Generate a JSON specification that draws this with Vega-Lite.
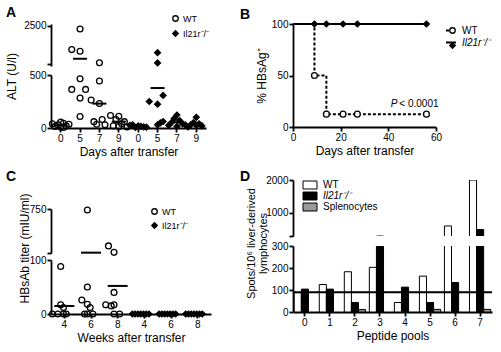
{
  "$schema": "https://vega.github.io/schema/vega-lite/v6.json",
  "padding": {"left": 5, "top": 6, "right": 5, "bottom": 5},
  "spacing": 29,
  "config": {
    "font": "Liberation Sans",
    "view": {"stroke": null},
    "axis": {"domainColor": "black", "domainWidth": 1.8, "tickColor": "black", "tickWidth": 1.8, "tickSize": 4, "labelFontSize": 10, "labelColor": "black", "labelPadding": 1, "titleFontSize": 12, "titleFontWeight": "normal", "titleColor": "black", "titlePadding": 3, "grid": false, "labelFlush": false, "labelOverlap": false},
    "legend": {"labelColor": "black", "labelFont": "Liberation Sans", "padding": 0, "symbolStrokeColor": "black", "symbolStrokeWidth": 1.3},
    "title": {"fontSize": 14, "fontWeight": "bold", "anchor": "start", "frame": "group", "offset": 0, "color": "black"}
  },
  "resolve": {"scale": {"x": "independent", "y": "independent", "shape": "independent", "fill": "independent", "stroke": "independent", "strokeDash": "independent"}, "legend": {"shape": "independent", "fill": "independent", "stroke": "independent", "strokeDash": "independent"}},
  "hconcat": [
    {
      "vconcat": [
        {
          "vconcat": [
            {
              "width": 155, "height": 42,
              "title": {"text": "A", "dx": -45, "dy": 10},
              "layer": [
                {
                  "data": {"name": "A"},
                  "transform": [{"filter": "datum.v >= 500"}],
                  "mark": {"type": "point", "filled": true, "stroke": "black", "strokeWidth": 1.3, "opacity": 1, "size": 34},
                  "encoding": {
                    "x": {"field": "g", "type": "nominal", "scale": {"type": "band", "domain": ["WT|0","WT|5","WT|7","WT|9","KO|0","KO|5","KO|7","KO|9"], "paddingInner": 0, "paddingOuter": 0}, "axis": null},
                    "xOffset": {"field": "k", "type": "nominal", "scale": {"domain": [-3,-2,-1,0,1,2,3]}},
                    "y": {"field": "v", "type": "quantitative", "scale": {"domain": [500, 2500]}, "axis": {"values": [500, 1500, 2500], "format": "d", "labelExpr": "datum.value == 500 ? '' : datum.label", "title": null}},
                    "shape": {"field": "geno", "type": "nominal", "scale": {"domain": ["WT", "Il21r⁻/⁻"], "range": ["circle", "diamond"]}, "legend": {"orient": "none", "legendX": 120, "legendY": -10, "title": null, "labelFontSize": 9, "rowPadding": 4, "labelOffset": 3, "symbolSize": 30, "encode": {"labels": {"update": {"fontStyle": {"signal": "datum.value === 'WT' ? 'normal' : 'italic'"}}}}}},
                    "fill": {"field": "geno", "type": "nominal", "scale": {"domain": ["WT", "Il21r⁻/⁻"], "range": ["transparent", "black"]}},
                    "stroke": {"field": "geno", "type": "nominal", "scale": {"domain": ["WT", "Il21r⁻/⁻"], "range": ["black", "black"]}}
                  }
                },
                {
                  "data": {"name": "Amean"},
                  "transform": [{"filter": "datum.v >= 500"}],
                  "mark": {"type": "tick", "color": "black", "size": 14, "thickness": 2, "opacity": 1},
                  "encoding": {
                    "x": {"field": "g", "type": "nominal"},
                    "y": {"field": "v", "type": "quantitative"}
                  }
                }
              ]
            },
            {
              "width": 155, "height": 53,
              "layer": [
                {
                  "data": {"name": "A"},
                  "transform": [{"filter": "datum.v <= 500"}],
                  "mark": {"type": "point", "filled": true, "stroke": "black", "strokeWidth": 1.3, "opacity": 1, "size": 34},
                  "encoding": {
                    "x": {"field": "g", "type": "nominal", "scale": {"type": "band", "domain": ["WT|0","WT|5","WT|7","WT|9","KO|0","KO|5","KO|7","KO|9"], "paddingInner": 0, "paddingOuter": 0}, "axis": {"labelExpr": "split(datum.value, '|')[1]", "labelAngle": 0, "title": "Days after transfer"}},
                    "xOffset": {"field": "k", "type": "nominal", "scale": {"domain": [-3,-2,-1,0,1,2,3]}},
                    "y": {"field": "v", "type": "quantitative", "scale": {"domain": [0, 500]}, "axis": {"values": [0, 250, 500], "format": "d", "title": "ALT (U/l)", "titleY": 1, "titleX": -33}},
                    "shape": {"field": "geno", "type": "nominal", "scale": {"domain": ["WT", "Il21r⁻/⁻"], "range": ["circle", "diamond"]}, "legend": null},
                    "fill": {"field": "geno", "type": "nominal", "scale": {"domain": ["WT", "Il21r⁻/⁻"], "range": ["transparent", "black"]}, "legend": null}
                  }
                },
                {
                  "data": {"name": "Amean"},
                  "transform": [{"filter": "datum.v <= 500"}],
                  "mark": {"type": "tick", "color": "black", "size": 14, "thickness": 2, "opacity": 1},
                  "encoding": {
                    "x": {"field": "g", "type": "nominal"},
                    "y": {"field": "v", "type": "quantitative"}
                  }
                }
              ]
            }
          ],
          "spacing": 9,
          "bounds": "flush",
          "resolve": {"scale": {"x": "independent", "y": "independent", "shape": "independent", "fill": "independent", "stroke": "independent"}, "legend": {"shape": "independent", "fill": "independent", "stroke": "independent"}}
        },
        {
          "vconcat": [
            {
              "width": 160, "height": 44,
              "title": {"text": "C", "dx": -45, "dy": -16},
              "layer": [
                {
                  "data": {"name": "C"},
                  "transform": [{"filter": "datum.v >= 100"}],
                  "mark": {"type": "point", "filled": true, "stroke": "black", "strokeWidth": 1.3, "opacity": 1, "size": 34},
                  "encoding": {
                    "x": {"field": "g", "type": "nominal", "scale": {"type": "band", "domain": ["WT|4","WT|6","WT|8","KO|4","KO|6","KO|8"], "paddingInner": 0, "paddingOuter": 0}, "axis": null},
                    "xOffset": {"field": "k", "type": "nominal", "scale": {"domain": [-3,-2,-1,0,1,2,3]}},
                    "y": {"field": "v", "type": "quantitative", "scale": {"domain": [100, 750]}, "axis": {"values": [100, 250, 500, 750], "format": "d", "labelExpr": "datum.value == 100 ? '' : datum.label", "title": null}},
                    "shape": {"field": "geno", "type": "nominal", "scale": {"domain": ["WT", "Il21r⁻/⁻"], "range": ["circle", "diamond"]}, "legend": {"orient": "none", "legendX": 99, "legendY": -2, "title": null, "labelFontSize": 9, "rowPadding": 3, "labelOffset": 3, "symbolSize": 30, "encode": {"labels": {"update": {"fontStyle": {"signal": "datum.value === 'WT' ? 'normal' : 'italic'"}}}}}},
                    "fill": {"field": "geno", "type": "nominal", "scale": {"domain": ["WT", "Il21r⁻/⁻"], "range": ["transparent", "black"]}},
                    "stroke": {"field": "geno", "type": "nominal", "scale": {"domain": ["WT", "Il21r⁻/⁻"], "range": ["black", "black"]}}
                  }
                },
                {
                  "data": {"name": "Cmean"},
                  "transform": [{"filter": "datum.v >= 100"}],
                  "mark": {"type": "tick", "color": "black", "size": 20, "thickness": 2, "opacity": 1},
                  "encoding": {
                    "x": {"field": "g", "type": "nominal"},
                    "y": {"field": "v", "type": "quantitative"}
                  }
                }
              ]
            },
            {
              "width": 160, "height": 54,
              "layer": [
                {
                  "data": {"name": "C"},
                  "transform": [{"filter": "datum.v <= 100"}],
                  "mark": {"type": "point", "filled": true, "stroke": "black", "strokeWidth": 1.3, "opacity": 1, "size": 34},
                  "encoding": {
                    "x": {"field": "g", "type": "nominal", "scale": {"type": "band", "domain": ["WT|4","WT|6","WT|8","KO|4","KO|6","KO|8"], "paddingInner": 0, "paddingOuter": 0}, "axis": {"labelExpr": "split(datum.value, '|')[1]", "labelAngle": 0, "title": "Weeks after transfer"}},
                    "xOffset": {"field": "k", "type": "nominal", "scale": {"domain": [-3,-2,-1,0,1,2,3]}},
                    "y": {"field": "v", "type": "quantitative", "scale": {"domain": [0, 100]}, "axis": {"values": [0, 50, 100], "format": "d", "title": "HBsAb titer (mIU/ml)", "titleY": -12, "titleX": -20}},
                    "shape": {"field": "geno", "type": "nominal", "scale": {"domain": ["WT", "Il21r⁻/⁻"], "range": ["circle", "diamond"]}, "legend": null},
                    "fill": {"field": "geno", "type": "nominal", "scale": {"domain": ["WT", "Il21r⁻/⁻"], "range": ["transparent", "black"]}, "legend": null}
                  }
                },
                {
                  "data": {"name": "Cmean"},
                  "transform": [{"filter": "datum.v <= 100"}],
                  "mark": {"type": "tick", "color": "black", "size": 20, "thickness": 2, "opacity": 1},
                  "encoding": {
                    "x": {"field": "g", "type": "nominal"},
                    "y": {"field": "v", "type": "quantitative"}
                  }
                }
              ]
            }
          ],
          "spacing": 7,
          "bounds": "flush",
          "resolve": {"scale": {"x": "independent", "y": "independent", "shape": "independent", "fill": "independent", "stroke": "independent"}, "legend": {"shape": "independent", "fill": "independent", "stroke": "independent"}}
        }
      ],
      "spacing": 13,
      "resolve": {"scale": {"x": "independent", "y": "independent", "shape": "independent", "fill": "independent", "stroke": "independent"}, "legend": {"shape": "independent", "fill": "independent", "stroke": "independent"}}
    },
    {
      "vconcat": [
        {
          "width": 143, "height": 103,
          "title": {"text": "B", "dx": -53, "dy": 8},
          "layer": [
            {
              "data": {"name": "Bline"},
              "mark": {"type": "line", "interpolate": "step-after", "strokeWidth": 2, "color": "black"},
              "encoding": {
                "x": {"field": "d", "type": "quantitative", "scale": {"domain": [0, 60]}, "axis": {"values": [0, 10, 20, 30, 40, 50, 60], "title": "Days after transfer"}},
                "y": {"field": "p", "type": "quantitative", "scale": {"domain": [0, 100]}, "axis": {"values": [0, 25, 50, 75, 100], "title": "% HBsAg⁺"}},
                "strokeDash": {"field": "series", "type": "nominal", "scale": {"domain": ["WT", "Il21r⁻/⁻"], "range": [[3, 2], [1, 0]]}, "legend": {"orient": "none", "legendX": 152, "legendY": 0.5, "title": null, "labelFontSize": 10, "rowPadding": 1, "labelOffset": 5, "symbolSize": 100, "symbolType": "stroke", "symbolStrokeWidth": 2, "symbolStrokeColor": "black", "encode": {"labels": {"update": {"fontStyle": {"signal": "datum.value === 'WT' ? 'normal' : 'italic'"}}}}}}
              }
            },
            {
              "data": {"name": "Bpts"},
              "mark": {"type": "point", "filled": true, "stroke": "black", "strokeWidth": 1.3, "opacity": 1, "size": 34},
              "encoding": {
                "x": {"field": "d", "type": "quantitative"},
                "y": {"field": "p", "type": "quantitative"},
                "shape": {"field": "grp", "type": "nominal", "scale": {"domain": ["wt", "ko"], "range": ["circle", "diamond"]}, "legend": {"orient": "none", "legendX": 154.5, "legendY": 1.5, "title": null, "labelFontSize": 10, "rowPadding": 3, "labelOffset": 8, "labelExpr": "''", "symbolSize": 30}},
                "fill": {"field": "grp", "type": "nominal", "scale": {"domain": ["wt", "ko"], "range": ["white", "black"]}},
                "stroke": {"field": "grp", "type": "nominal", "scale": {"domain": ["wt", "ko"], "range": ["black", "black"]}}
              }
            },
            {
              "data": {"name": "Btext"},
              "mark": {"type": "text", "fontSize": 10, "fontStyle": "italic", "align": "right", "baseline": "alphabetic", "dx": -1, "color": "black"},
              "encoding": {
                "x": {"field": "d", "type": "quantitative"},
                "y": {"field": "p", "type": "quantitative"},
                "text": {"field": "a"}
              }
            },
            {
              "data": {"name": "Btext"},
              "mark": {"type": "text", "fontSize": 10, "align": "left", "baseline": "alphabetic", "dx": 1, "color": "black"},
              "encoding": {
                "x": {"field": "d", "type": "quantitative"},
                "y": {"field": "p", "type": "quantitative"},
                "text": {"field": "b"}
              }
            }
          ]
        },
        {
          "vconcat": [
            {
              "width": 199, "height": 56,
              "title": {"text": "D", "dx": -53, "dy": 13},
              "data": {"name": "D"},
              "encoding": {
                "x": {"field": "pool", "type": "nominal", "scale": {"type": "band", "domain": ["0","1","2","3","4","5","6","7"], "paddingInner": 0.15, "paddingOuter": 0.05}, "axis": null},
                "y": {"field": "v", "type": "quantitative", "scale": {"domain": [300, 2000]}, "axis": {"values": [300, 1000, 2000], "format": "d", "labelExpr": "datum.value == 300 ? '' : datum.label", "title": null}}
              },
              "layer": [
                {
                  "transform": [{"filter": "datum.type === 'WT'"}],
                  "mark": {"type": "bar", "stroke": "black", "strokeWidth": 1, "clip": true, "width": 7.1, "xOffset": -7.1},
                  "encoding": {
                    "fill": {"field": "type", "type": "nominal", "scale": {"domain": ["WT", "Il21r⁻/⁻", "Splenocytes"], "range": ["white", "black", "#999999"]}, "legend": {"orient": "none", "legendX": 12, "legendY": 0, "title": null, "labelFontSize": 10, "rowPadding": -1, "labelOffset": 8, "symbolSize": 64, "symbolType": "M-1.75,-1H1.75V1H-1.75Z", "symbolStrokeColor": "black", "symbolStrokeWidth": 1, "encode": {"labels": {"update": {"fontStyle": {"signal": "datum.value === 'Il21r⁻/⁻' ? 'italic' : 'normal'"}}}}}}
                  }
                },
                {
                  "transform": [{"filter": "datum.type === 'Il21r⁻/⁻'"}],
                  "mark": {"type": "bar", "stroke": "black", "strokeWidth": 1, "clip": true, "width": 7.1, "xOffset": 0},
                  "encoding": {"fill": {"field": "type", "type": "nominal"}}
                },
                {
                  "transform": [{"filter": "datum.type === 'Splenocytes'"}],
                  "mark": {"type": "bar", "stroke": "black", "strokeWidth": 1, "clip": true, "width": 7.1, "xOffset": 7.1},
                  "encoding": {"fill": {"field": "type", "type": "nominal"}}
                }
              ]
            },
            {
              "width": 199, "height": 66,
              "data": {"name": "D"},
              "encoding": {
                "x": {"field": "pool", "type": "nominal", "scale": {"type": "band", "domain": ["0","1","2","3","4","5","6","7"], "paddingInner": 0.15, "paddingOuter": 0.05}, "axis": {"labelAngle": 0, "title": "Peptide pools"}},
                "y": {"field": "v", "type": "quantitative", "scale": {"domain": [0, 300]}, "axis": {"values": [0, 100, 200, 300], "format": "d", "title": ["Spots/10⁶ liver-derived", "lymphocytes"], "titleFontSize": 11, "titleLineHeight": 12, "titleY": -3}}
              },
              "layer": [
                {
                  "transform": [{"filter": "datum.type === 'WT'"}],
                  "mark": {"type": "bar", "stroke": "black", "strokeWidth": 1, "clip": true, "width": 7.1, "xOffset": -7.1},
                  "encoding": {
                    "fill": {"field": "type", "type": "nominal", "scale": {"domain": ["WT", "Il21r⁻/⁻", "Splenocytes"], "range": ["white", "black", "#999999"]}, "legend": null}
                  }
                },
                {
                  "transform": [{"filter": "datum.type === 'Il21r⁻/⁻'"}],
                  "mark": {"type": "bar", "stroke": "black", "strokeWidth": 1, "clip": true, "width": 7.1, "xOffset": 0},
                  "encoding": {"fill": {"field": "type", "type": "nominal", "legend": null}}
                },
                {
                  "transform": [{"filter": "datum.type === 'Splenocytes'"}],
                  "mark": {"type": "bar", "stroke": "black", "strokeWidth": 1, "clip": true, "width": 7.1, "xOffset": 7.1},
                  "encoding": {"fill": {"field": "type", "type": "nominal", "legend": null}}
                },
                {
                  "data": {"name": "Dref"},
                  "mark": {"type": "rule", "color": "black", "strokeWidth": 2},
                  "encoding": {"x": null, "y": {"field": "v", "type": "quantitative"}}
                }
              ]
            }
          ],
          "spacing": 10,
          "bounds": "flush",
          "resolve": {"scale": {"x": "independent", "y": "independent", "fill": "independent"}, "legend": {"fill": "independent"}}
        }
      ],
      "spacing": 14,
      "resolve": {"scale": {"x": "independent", "y": "independent", "shape": "independent", "fill": "independent", "stroke": "independent", "strokeDash": "independent"}, "legend": {"shape": "independent", "fill": "independent", "stroke": "independent", "strokeDash": "independent"}}
    }
  ],
  "datasets": {
    "A": [
      {"g": "WT|0", "geno": "WT", "v": 40, "k": -3}, {"g": "WT|0", "geno": "WT", "v": 15, "k": -2}, {"g": "WT|0", "geno": "WT", "v": 30, "k": -1}, {"g": "WT|0", "geno": "WT", "v": 55, "k": 0}, {"g": "WT|0", "geno": "WT", "v": 10, "k": 0}, {"g": "WT|0", "geno": "WT", "v": 45, "k": 1}, {"g": "WT|0", "geno": "WT", "v": 20, "k": 2}, {"g": "WT|0", "geno": "WT", "v": 35, "k": 3}, {"g": "WT|0", "geno": "WT", "v": 5, "k": 1},
      {"g": "WT|5", "geno": "WT", "v": 2340, "k": 0}, {"g": "WT|5", "geno": "WT", "v": 1260, "k": -3}, {"g": "WT|5", "geno": "WT", "v": 1170, "k": 0}, {"g": "WT|5", "geno": "WT", "v": 465, "k": 0}, {"g": "WT|5", "geno": "WT", "v": 364, "k": -3}, {"g": "WT|5", "geno": "WT", "v": 364, "k": 2}, {"g": "WT|5", "geno": "WT", "v": 282, "k": 0}, {"g": "WT|5", "geno": "WT", "v": 108, "k": 0},
      {"g": "WT|7", "geno": "WT", "v": 570, "k": 0}, {"g": "WT|7", "geno": "WT", "v": 443, "k": 0}, {"g": "WT|7", "geno": "WT", "v": 263, "k": -3}, {"g": "WT|7", "geno": "WT", "v": 231, "k": 0}, {"g": "WT|7", "geno": "WT", "v": 80, "k": 1}, {"g": "WT|7", "geno": "WT", "v": 60, "k": -2}, {"g": "WT|7", "geno": "WT", "v": 35, "k": -1}, {"g": "WT|7", "geno": "WT", "v": 30, "k": 2},
      {"g": "WT|9", "geno": "WT", "v": 118, "k": -3}, {"g": "WT|9", "geno": "WT", "v": 110, "k": 0}, {"g": "WT|9", "geno": "WT", "v": 80, "k": -1}, {"g": "WT|9", "geno": "WT", "v": 60, "k": 2}, {"g": "WT|9", "geno": "WT", "v": 40, "k": 1}, {"g": "WT|9", "geno": "WT", "v": 20, "k": -2}, {"g": "WT|9", "geno": "WT", "v": 15, "k": 0}, {"g": "WT|9", "geno": "WT", "v": 10, "k": 3},
      {"g": "KO|0", "geno": "Il21r⁻/⁻", "v": 30, "k": -2}, {"g": "KO|0", "geno": "Il21r⁻/⁻", "v": 20, "k": 0}, {"g": "KO|0", "geno": "Il21r⁻/⁻", "v": 10, "k": 2}, {"g": "KO|0", "geno": "Il21r⁻/⁻", "v": 5, "k": -1}, {"g": "KO|0", "geno": "Il21r⁻/⁻", "v": 15, "k": 1}, {"g": "KO|0", "geno": "Il21r⁻/⁻", "v": 25, "k": -3}, {"g": "KO|0", "geno": "Il21r⁻/⁻", "v": 8, "k": 3},
      {"g": "KO|5", "geno": "Il21r⁻/⁻", "v": 1100, "k": 0}, {"g": "KO|5", "geno": "Il21r⁻/⁻", "v": 560, "k": 0}, {"g": "KO|5", "geno": "Il21r⁻/⁻", "v": 307, "k": 2}, {"g": "KO|5", "geno": "Il21r⁻/⁻", "v": 250, "k": -3}, {"g": "KO|5", "geno": "Il21r⁻/⁻", "v": 225, "k": 0}, {"g": "KO|5", "geno": "Il21r⁻/⁻", "v": 61, "k": 2}, {"g": "KO|5", "geno": "Il21r⁻/⁻", "v": 48, "k": 1}, {"g": "KO|5", "geno": "Il21r⁻/⁻", "v": 30, "k": 0},
      {"g": "KO|7", "geno": "Il21r⁻/⁻", "v": 123, "k": 0}, {"g": "KO|7", "geno": "Il21r⁻/⁻", "v": 90, "k": -1}, {"g": "KO|7", "geno": "Il21r⁻/⁻", "v": 70, "k": 1}, {"g": "KO|7", "geno": "Il21r⁻/⁻", "v": 50, "k": -2}, {"g": "KO|7", "geno": "Il21r⁻/⁻", "v": 40, "k": 2}, {"g": "KO|7", "geno": "Il21r⁻/⁻", "v": 25, "k": -3}, {"g": "KO|7", "geno": "Il21r⁻/⁻", "v": 15, "k": 0}, {"g": "KO|7", "geno": "Il21r⁻/⁻", "v": 30, "k": 3},
      {"g": "KO|9", "geno": "Il21r⁻/⁻", "v": 101, "k": 0}, {"g": "KO|9", "geno": "Il21r⁻/⁻", "v": 50, "k": -1}, {"g": "KO|9", "geno": "Il21r⁻/⁻", "v": 40, "k": 1}, {"g": "KO|9", "geno": "Il21r⁻/⁻", "v": 30, "k": -2}, {"g": "KO|9", "geno": "Il21r⁻/⁻", "v": 20, "k": 2}, {"g": "KO|9", "geno": "Il21r⁻/⁻", "v": 25, "k": 0}, {"g": "KO|9", "geno": "Il21r⁻/⁻", "v": 10, "k": -3}
    ],
    "Amean": [
      {"g": "WT|0", "v": 25}, {"g": "WT|5", "v": 780}, {"g": "WT|7", "v": 230}, {"g": "WT|9", "v": 60},
      {"g": "KO|0", "v": 15}, {"g": "KO|5", "v": 377}, {"g": "KO|7", "v": 55}, {"g": "KO|9", "v": 40}
    ],
    "C": [
      {"g": "WT|4", "geno": "WT", "v": 88, "k": 0}, {"g": "WT|4", "geno": "WT", "v": 17, "k": 0}, {"g": "WT|4", "geno": "WT", "v": 12, "k": 1}, {"g": "WT|4", "geno": "WT", "v": 0, "k": -3}, {"g": "WT|4", "geno": "WT", "v": 0, "k": -1}, {"g": "WT|4", "geno": "WT", "v": 0, "k": 1}, {"g": "WT|4", "geno": "WT", "v": 0, "k": 2},
      {"g": "WT|6", "geno": "WT", "v": 735, "k": 0}, {"g": "WT|6", "geno": "WT", "v": 50, "k": 0}, {"g": "WT|6", "geno": "WT", "v": 26, "k": -2}, {"g": "WT|6", "geno": "WT", "v": 18, "k": 0}, {"g": "WT|6", "geno": "WT", "v": 12, "k": 1}, {"g": "WT|6", "geno": "WT", "v": 0, "k": -1}, {"g": "WT|6", "geno": "WT", "v": 0, "k": 0}, {"g": "WT|6", "geno": "WT", "v": 0, "k": 2},
      {"g": "WT|8", "geno": "WT", "v": 205, "k": -2}, {"g": "WT|8", "geno": "WT", "v": 110, "k": 0}, {"g": "WT|8", "geno": "WT", "v": 40, "k": 0}, {"g": "WT|8", "geno": "WT", "v": 17, "k": -3}, {"g": "WT|8", "geno": "WT", "v": 15, "k": -1}, {"g": "WT|8", "geno": "WT", "v": 17, "k": 0}, {"g": "WT|8", "geno": "WT", "v": 0, "k": 0}, {"g": "WT|8", "geno": "WT", "v": 0, "k": 2},
      {"g": "KO|4", "geno": "Il21r⁻/⁻", "v": 0, "k": -3}, {"g": "KO|4", "geno": "Il21r⁻/⁻", "v": 0, "k": -2}, {"g": "KO|4", "geno": "Il21r⁻/⁻", "v": 0, "k": -1}, {"g": "KO|4", "geno": "Il21r⁻/⁻", "v": 0, "k": 0}, {"g": "KO|4", "geno": "Il21r⁻/⁻", "v": 0, "k": 1}, {"g": "KO|4", "geno": "Il21r⁻/⁻", "v": 0, "k": 2}, {"g": "KO|4", "geno": "Il21r⁻/⁻", "v": 0, "k": 3},
      {"g": "KO|6", "geno": "Il21r⁻/⁻", "v": 0, "k": -3}, {"g": "KO|6", "geno": "Il21r⁻/⁻", "v": 0, "k": -2}, {"g": "KO|6", "geno": "Il21r⁻/⁻", "v": 0, "k": -1}, {"g": "KO|6", "geno": "Il21r⁻/⁻", "v": 0, "k": 0}, {"g": "KO|6", "geno": "Il21r⁻/⁻", "v": 0, "k": 1}, {"g": "KO|6", "geno": "Il21r⁻/⁻", "v": 0, "k": 2}, {"g": "KO|6", "geno": "Il21r⁻/⁻", "v": 0, "k": 3},
      {"g": "KO|8", "geno": "Il21r⁻/⁻", "v": 0, "k": -3}, {"g": "KO|8", "geno": "Il21r⁻/⁻", "v": 0, "k": -2}, {"g": "KO|8", "geno": "Il21r⁻/⁻", "v": 0, "k": -1}, {"g": "KO|8", "geno": "Il21r⁻/⁻", "v": 0, "k": 0}, {"g": "KO|8", "geno": "Il21r⁻/⁻", "v": 0, "k": 1}, {"g": "KO|8", "geno": "Il21r⁻/⁻", "v": 0, "k": 2}, {"g": "KO|8", "geno": "Il21r⁻/⁻", "v": 0, "k": 3}
    ],
    "Cmean": [
      {"g": "WT|4", "v": 15}, {"g": "WT|6", "v": 105}, {"g": "WT|8", "v": 52}
    ],
    "Bline": [
      {"series": "WT", "d": 0, "p": 100}, {"series": "WT", "d": 9, "p": 50}, {"series": "WT", "d": 14, "p": 12.5}, {"series": "WT", "d": 56, "p": 12.5},
      {"series": "Il21r⁻/⁻", "d": 0, "p": 100}, {"series": "Il21r⁻/⁻", "d": 56, "p": 100}
    ],
    "Bpts": [
      {"grp": "wt", "d": 9, "p": 50}, {"grp": "wt", "d": 14, "p": 12.5}, {"grp": "wt", "d": 21, "p": 12.5}, {"grp": "wt", "d": 27, "p": 12.5}, {"grp": "wt", "d": 56, "p": 12.5},
      {"grp": "ko", "d": 9, "p": 100}, {"grp": "ko", "d": 14, "p": 100}, {"grp": "ko", "d": 21, "p": 100}, {"grp": "ko", "d": 27, "p": 100}, {"grp": "ko", "d": 56, "p": 100}
    ],
    "Btext": [
      {"d": 44.2, "p": 19.5, "a": "P", "b": "< 0.0001"}
    ],
    "D": [
      {"pool": "0", "type": "WT", "v": 88}, {"pool": "0", "type": "Il21r⁻/⁻", "v": 104},
      {"pool": "1", "type": "WT", "v": 125}, {"pool": "1", "type": "Il21r⁻/⁻", "v": 104},
      {"pool": "2", "type": "WT", "v": 183}, {"pool": "2", "type": "Il21r⁻/⁻", "v": 43}, {"pool": "2", "type": "Splenocytes", "v": 11},
      {"pool": "3", "type": "WT", "v": 203}, {"pool": "3", "type": "Il21r⁻/⁻", "v": 298},
      {"pool": "4", "type": "WT", "v": 43}, {"pool": "4", "type": "Il21r⁻/⁻", "v": 113},
      {"pool": "5", "type": "WT", "v": 163}, {"pool": "5", "type": "Il21r⁻/⁻", "v": 43}, {"pool": "5", "type": "Splenocytes", "v": 12},
      {"pool": "6", "type": "WT", "v": 605}, {"pool": "6", "type": "Il21r⁻/⁻", "v": 134},
      {"pool": "7", "type": "WT", "v": 2000}, {"pool": "7", "type": "Il21r⁻/⁻", "v": 495}, {"pool": "7", "type": "Splenocytes", "v": 12}
    ],
    "Dref": [
      {"v": 90}
    ]
  }
}
